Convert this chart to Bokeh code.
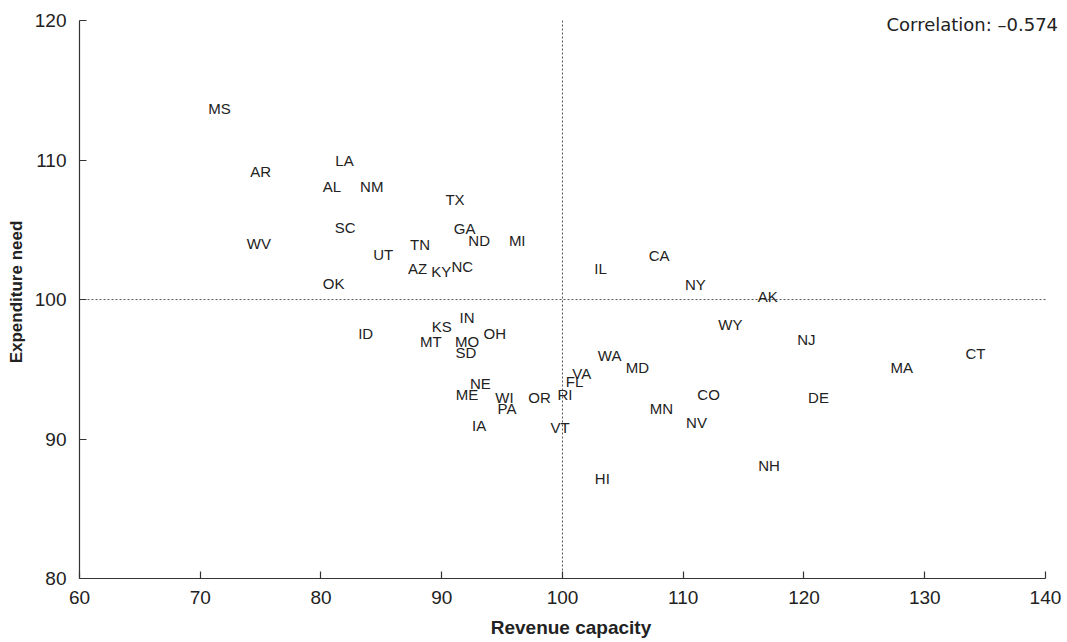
from bokeh.plotting import figure
from bokeh.models import Range1d, FixedTicker, Label, ColumnDataSource
from bokeh.core.properties import value
from bokeh.embed import file_html
from bokeh.resources import INLINE

states = ["MS", "AR", "LA", "AL", "NM", "TX", "SC", "GA", "ND", "MI",
          "WV", "UT", "TN", "AZ", "KY", "NC", "IL", "CA", "NY", "OK",
          "AK", "IN", "KS", "OH", "MT", "MO", "SD", "ID", "WA", "MD",
          "VA", "FL", "NE", "ME", "WI", "OR", "RI", "PA", "CO", "MN",
          "NV", "IA", "VT", "HI", "WY", "NH", "NJ", "CT", "MA", "DE"]
revenue_capacity = [71.6, 75.0, 81.95, 80.9, 84.2, 91.1, 82.0, 91.9, 93.1, 96.25,
                    74.85, 85.15, 88.2, 88.0, 89.95, 91.7, 103.15, 108.0, 111.0, 81.05,
                    117.0, 92.1, 90.0, 94.4, 89.1, 92.1, 92.0, 83.7, 103.9, 106.2,
                    101.6, 101.0, 93.2, 92.1, 95.2, 98.1, 100.2, 95.4, 112.1, 108.2,
                    111.1, 93.1, 99.8, 103.3, 113.9, 117.1, 120.2, 134.2, 128.1, 121.2]
expenditure_need = [113.7, 109.2, 109.95, 108.1, 108.1, 107.2, 105.2, 105.1, 104.2, 104.2,
                    104.0, 103.2, 103.95, 102.2, 102.0, 102.4, 102.2, 103.15, 101.05, 101.15,
                    100.2, 98.7, 98.1, 97.6, 97.0, 97.0, 96.2, 97.6, 96.0, 95.1,
                    94.7, 94.1, 94.0, 93.2, 93.0, 93.0, 93.2, 92.2, 93.2, 92.2,
                    91.2, 91.0, 90.8, 87.2, 98.2, 88.1, 97.1, 96.1, 95.1, 93.0]
x_ticks = [60, 70, 80, 90, 100, 110, 120, 130, 140]
y_ticks = [80, 90, 100, 110, 120]
reference_value = 100
correlation_text = "Correlation: \u20130.574"

src = ColumnDataSource(dict(x=revenue_capacity, y=expenditure_need, s=states))

# frame extended slightly beyond the axes so the corner note is not clipped
p = figure(width=1067, height=642, output_backend="svg", toolbar_location=None,
           x_range=Range1d(60, 141.41), y_range=Range1d(80, 121.08),
           min_border_left=79, min_border_right=5, min_border_top=5, min_border_bottom=64)
p.outline_line_color = None
p.xgrid.visible = False
p.ygrid.visible = False
p.background_fill_color = "white"
p.border_fill_color = "white"

for ax, ticks in ((p.xaxis[0], x_ticks), (p.yaxis[0], y_ticks)):
    ax.ticker = FixedTicker(ticks=ticks)
    ax.bounds = (ticks[0], ticks[-1])
    ax.major_tick_in = 7
    ax.major_tick_out = 0
    ax.minor_tick_line_color = None
    ax.axis_line_color = "#333333"
    ax.axis_line_width = 1.2
    ax.major_tick_line_color = "#333333"
    ax.major_tick_line_width = 1.2
    ax.major_label_text_font = "Liberation Sans"
    ax.major_label_text_font_size = "19px"
    ax.major_label_text_color = "#222222"
    ax.axis_label_text_font = "Liberation Sans"
    ax.axis_label_text_font_style = "bold"
    ax.axis_label_text_color = "#222222"

p.xaxis.axis_label = "Revenue capacity"
p.xaxis.axis_label_text_font_size = "19px"
p.xaxis.major_label_standoff = 12
p.xaxis.axis_label_standoff = 10
p.yaxis.axis_label = "Expenditure need"
p.yaxis.axis_label_text_font_size = "17px"
p.yaxis.major_label_standoff = 13
p.yaxis.axis_label_standoff = 6

# reference lines at 100 on both axes, spanning the axis extents
p.segment(x0=[reference_value, x_ticks[0]], y0=[y_ticks[0], reference_value],
          x1=[reference_value, x_ticks[-1]], y1=[y_ticks[-1], reference_value],
          line_color="#555555", line_width=1, line_dash="2 2")

p.text(x="x", y="y", text="s", source=src, text_align="center",
       text_baseline="middle", text_font=value("Liberation Sans"),
       text_font_size="15px", text_color="#222222")

p.add_layout(Label(x=141.04, y=119.74, text=correlation_text, text_align="right",
                   text_baseline="alphabetic", text_font="DejaVu Sans",
                   text_font_size="18px", text_color="#222222"))

open("out.html", "w").write(file_html(p, INLINE))
